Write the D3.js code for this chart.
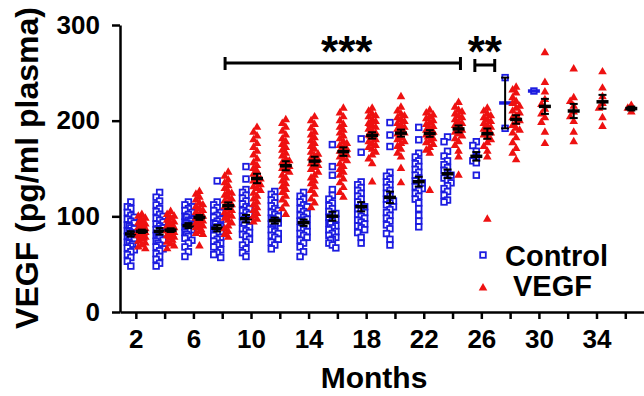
<!DOCTYPE html>
<html lang="en">
<head>
<meta charset="UTF-8">
<title>VEGF by month</title>
<script src="https://d3js.org/d3.v7.min.js"></script>
<style>
  body { margin: 0; background: #fff; }
  text { font-family: "Liberation Sans", Arial, sans-serif; font-weight: bold; }
</style>
</head>
<body>
<svg id="chart" width="644" height="396"></svg>
<script>
// months sampled for each group
const controlMonths = [2, 4, 6, 8, 10, 12, 14, 16, 18, 20, 22, 24, 26, 28, 30];
const vegfMonths = [2, 4, 6, 8, 10, 12, 14, 16, 18, 20, 22, 24, 26, 28, 30, 32, 34, 36];

// plasma VEGF (pg/ml) per animal
const controlValues = [
  [115, 110, 108, 104, 101, 99, 97, 95, 93, 91, 90, 88, 87, 85, 84, 83, 82, 80, 79, 78, 77, 76, 75, 73, 72, 71, 69, 67, 65, 63, 60, 57, 53, 48],
  [125, 120, 116, 112, 108, 105, 102, 100, 98, 96, 94, 92, 90, 88, 87, 86, 85, 84, 82, 80, 79, 77, 75, 74, 72, 70, 68, 66, 64, 61, 58, 55, 51, 48],
  [115, 112, 110, 108, 106, 104, 102, 100, 99, 97, 96, 95, 94, 93, 92, 91, 90, 89, 88, 86, 85, 83, 81, 79, 77, 75, 72, 68, 63, 58],
  [137, 115, 112, 109, 106, 104, 101, 99, 97, 95, 93, 92, 90, 89, 88, 86, 85, 84, 82, 80, 78, 76, 74, 72, 70, 68, 65, 62, 60, 57],
  [152, 139, 128, 125, 122, 119, 116, 113, 110, 108, 106, 104, 102, 100, 98, 97, 96, 94, 92, 91, 89, 87, 85, 83, 81, 79, 76, 73, 70, 66, 62, 58],
  [126, 123, 120, 117, 114, 111, 108, 106, 104, 102, 100, 98, 97, 96, 95, 93, 92, 90, 88, 86, 84, 82, 80, 78, 76, 73, 70, 66],
  [125, 121, 118, 115, 112, 110, 108, 105, 103, 101, 99, 97, 96, 95, 93, 92, 90, 88, 86, 84, 82, 80, 78, 75, 72, 68, 63, 58],
  [175, 152, 143, 128, 122, 118, 114, 111, 108, 105, 103, 101, 99, 97, 95, 93, 92, 90, 88, 86, 84, 82, 80, 78, 76, 75, 72, 70, 67],
  [181, 167, 136, 133, 130, 127, 124, 121, 118, 115, 112, 110, 108, 106, 104, 102, 100, 98, 96, 94, 92, 90, 88, 86, 83, 78, 72],
  [198, 185, 173, 146, 142, 139, 136, 133, 130, 127, 124, 121, 118, 116, 114, 112, 110, 107, 104, 101, 98, 95, 91, 87, 82, 76, 70],
  [193, 180, 166, 162, 158, 155, 152, 149, 146, 143, 140, 137, 135, 133, 131, 129, 127, 124, 121, 118, 114, 108, 101, 95, 89],
  [183, 178, 168, 163, 158, 154, 151, 148, 145, 143, 140, 138, 135, 132, 129, 126, 122, 117, 115],
  [178, 174, 168, 162, 158, 156, 143],
  [245, 192],
  [231]
];

const vegfValues = [
  [102, 100, 98, 96, 95, 93, 92, 91, 90, 89, 88, 87, 86, 85, 84, 84, 83, 82, 81, 80, 79, 78, 77, 76, 74, 72, 70, 68, 66],
  [105, 102, 100, 98, 96, 95, 94, 92, 91, 90, 89, 88, 87, 86, 85, 84, 83, 82, 81, 80, 79, 78, 77, 75, 73, 71, 69, 66],
  [126, 123, 120, 117, 114, 112, 110, 108, 106, 104, 102, 100, 99, 98, 97, 96, 95, 94, 93, 92, 91, 90, 89, 88, 86, 84, 82, 81, 69],
  [146, 142, 138, 135, 132, 129, 126, 124, 122, 120, 118, 116, 114, 112, 111, 110, 108, 106, 104, 102, 100, 98, 96, 93, 90, 87, 84, 81, 78],
  [193, 188, 184, 180, 176, 172, 168, 164, 160, 156, 153, 150, 147, 144, 141, 139, 137, 135, 133, 131, 129, 127, 124, 121, 118, 115, 112, 109, 106, 103, 100, 97, 94],
  [201, 197, 193, 189, 185, 181, 178, 175, 172, 169, 166, 163, 160, 158, 156, 154, 152, 150, 148, 146, 143, 140, 137, 134, 131, 128, 125, 121, 117, 113, 108, 102],
  [204, 200, 196, 192, 188, 185, 182, 179, 176, 173, 170, 167, 165, 163, 161, 159, 157, 155, 153, 151, 149, 146, 143, 140, 137, 134, 131, 127, 123, 118, 114, 109],
  [213, 208, 204, 200, 196, 193, 190, 187, 184, 181, 178, 176, 174, 172, 170, 168, 166, 164, 162, 160, 158, 155, 152, 149, 146, 143, 139, 135, 130, 125, 120],
  [213, 210, 207, 205, 204, 201, 199, 197, 196, 195, 193, 191, 189, 187, 185, 184, 183, 182, 180, 178, 176, 174, 172, 170, 167, 164, 160, 155, 136],
  [225, 214, 210, 207, 205, 203, 201, 199, 197, 195, 193, 191, 190, 189, 188, 187, 186, 184, 182, 180, 178, 176, 173, 170, 166, 162, 150, 135],
  [211, 208, 206, 204, 202, 200, 198, 196, 194, 192, 190, 189, 188, 187, 186, 185, 183, 181, 179, 177, 175, 172, 169, 166, 127],
  [219, 214, 211, 209, 207, 205, 203, 201, 199, 197, 195, 194, 193, 192, 190, 188, 186, 184, 181, 178, 174, 168, 162, 143],
  [213, 210, 207, 205, 203, 201, 199, 197, 195, 193, 191, 189, 187, 185, 183, 180, 177, 173, 168, 162, 97],
  [235, 232, 229, 224, 220, 218, 215, 213, 210, 208, 205, 203, 200, 198, 195, 192, 190, 187, 182, 177, 171, 166, 159],
  [271, 240, 230, 222, 217, 212, 207, 203, 198, 188, 176],
  [254, 224, 220, 215, 209, 204, 199, 188, 178],
  [251, 234, 225, 218, 213, 203, 194],
  [216, 213, 209]
];

const xTicks = [2, 4, 6, 8, 10, 12, 14, 16, 18, 20, 22, 24, 26, 28, 30, 32, 34, 36];
const xTickLabels = [2, 6, 10, 14, 18, 22, 26, 30, 34];
const yTicks = [0, 100, 200, 300];

const brackets = [
  { from: 8.2, to: 24.55, label: "***" },
  { from: 25.55, to: 26.93, label: "**" }
];

const blue = "#1c1ce0";
const red = "#ee1111";

const svg = d3.select("#chart");
const x = d3.scaleLinear().domain([0.9, 37.3]).range([120, 644]);
const y = d3.scaleLinear().domain([0, 300]).range([312, 25]);

// simple deterministic swarm so that points in a column do not sit on top of each other
function swarm(values, cx) {
  const lanes = [0, -3.5, 3.5, -1.75, 1.75];
  const lastY = lanes.map(() => -1e9);
  const sorted = values.slice().sort((a, b) => b - a);
  return sorted.map(v => {
    const py = y(v);
    let pick = -1;
    for (let i = 0; i < lanes.length; i++) {
      if (Math.abs(py - lastY[i]) >= 5) { pick = i; break; }
    }
    if (pick < 0) {
      let best = -1;
      lanes.forEach((l, i) => {
        const d = Math.abs(py - lastY[i]);
        if (d > best) { best = d; pick = i; }
      });
    }
    lastY[pick] = py;
    return { x: cx + lanes[pick], y: py, v: v };
  });
}

function drawGroup(g, months, values, shift, kind, color) {
  months.forEach((m, i) => {
    const vals = values[i];
    const cx = x(m) + shift;
    const pts = swarm(vals, cx);
    if (kind === "square") {
      g.selectAll(null).data(pts).enter().append("rect")
        .attr("x", d => d.x - 2.8).attr("y", d => d.y - 2.8)
        .attr("width", 5.6).attr("height", 5.6)
        .attr("fill", "white").attr("stroke", color).attr("stroke-width", 1.8);
    } else {
      g.selectAll(null).data(pts).enter().append("path")
        .attr("d", d3.symbol().type(d3.symbolTriangle).size(32))
        .attr("transform", d => "translate(" + d.x + "," + d.y + ")")
        .attr("fill", color);
    }
    const mean = d3.mean(vals);
    const sem = vals.length > 1 ? d3.deviation(vals) / Math.sqrt(vals.length) : 0;
    g.append("line")
      .attr("x1", cx - 6).attr("x2", cx + 6)
      .attr("y1", y(mean)).attr("y2", y(mean))
      .attr("stroke", vals.length > 2 ? "black" : color).attr("stroke-width", 3.5);
    if (sem > 0) {
      g.append("line")
        .attr("x1", cx).attr("x2", cx)
        .attr("y1", y(mean - sem)).attr("y2", y(mean + sem))
        .attr("stroke", "black").attr("stroke-width", 2);
      [mean - sem, mean + sem].forEach(e => {
        g.append("line")
          .attr("x1", cx - 4).attr("x2", cx + 4)
          .attr("y1", y(e)).attr("y2", y(e))
          .attr("stroke", "black").attr("stroke-width", 2);
      });
    }
  });
}

const plot = svg.append("g");
drawGroup(plot.append("g"), controlMonths, controlValues, -5, "square", blue);
drawGroup(plot.append("g"), vegfMonths, vegfValues, 6, "triangle", red);

// axes
const yAxis = svg.append("g")
  .attr("transform", "translate(120,0)")
  .call(d3.axisLeft(y).tickValues(yTicks).tickSize(8).tickSizeOuter(0).tickPadding(12));
const xAxis = svg.append("g")
  .attr("transform", "translate(0,312)")
  .call(d3.axisBottom(x).tickValues(xTicks).tickSize(7).tickSizeOuter(0).tickPadding(11)
    .tickFormat(d => xTickLabels.includes(d) ? d : ""));
[yAxis, xAxis].forEach(a => {
  a.selectAll("path, line").attr("stroke", "black").attr("stroke-width", 2.5);
  a.selectAll("text").attr("fill", "black").style("font-size", "26px")
    .style("font-family", "'Liberation Sans', Arial, sans-serif").style("font-weight", "bold");
});

svg.append("text")
  .attr("transform", "translate(38,168) rotate(-90)")
  .attr("text-anchor", "middle")
  .style("font-size", "32px")
  .text("VEGF (pg/ml plasma)");

svg.append("text")
  .attr("x", 374).attr("y", 388)
  .attr("text-anchor", "middle")
  .style("font-size", "30px")
  .text("Months");

// significance brackets
brackets.forEach((b, i) => {
  const by = i === 0 ? 63 : 65;
  const g = svg.append("g").attr("stroke", "black").attr("stroke-width", 3);
  g.append("line").attr("x1", x(b.from)).attr("x2", x(b.to)).attr("y1", by).attr("y2", by);
  g.append("line").attr("x1", x(b.from)).attr("x2", x(b.from)).attr("y1", by - 6).attr("y2", by + 7);
  g.append("line").attr("x1", x(b.to)).attr("x2", x(b.to)).attr("y1", by - 6).attr("y2", by + 7);
  svg.append("text")
    .attr("x", (x(b.from) + x(b.to)) / 2 + (i === 0 ? 4 : 0)).attr("y", 67)
    .attr("text-anchor", "middle")
    .style("font-size", "44px")
    .text(b.label);
});

// legend
const legend = svg.append("g");
legend.append("rect").attr("x", 480.2).attr("y", 252.2).attr("width", 5.6).attr("height", 5.6)
  .attr("fill", "white").attr("stroke", blue).attr("stroke-width", 1.8);
legend.append("path").attr("d", d3.symbol().type(d3.symbolTriangle).size(32))
  .attr("transform", "translate(483,288)").attr("fill", red);
legend.append("text").attr("x", 505).attr("y", 266).style("font-size", "29px").text("Control");
legend.append("text").attr("x", 513).attr("y", 296).style("font-size", "29px").text("VEGF");
</script>
</body>
</html>
